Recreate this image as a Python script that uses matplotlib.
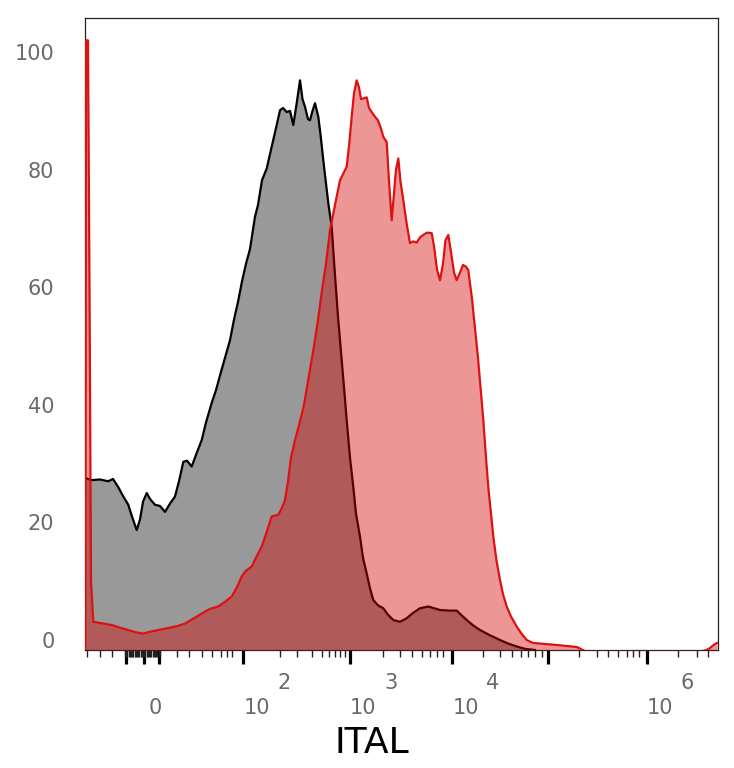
import matplotlib
matplotlib.use("Agg")
import matplotlib.pyplot as plt
import numpy as np

# x positions are display channels (0 = left edge of the plot), y = % of max
ctrl_x = [1, 6.7, 15, 23.3, 28, 33.3, 38, 43.3, 47, 51.7,
          55, 58, 61.7, 65, 70, 75, 80, 85, 90, 94,
          98.3, 102, 106.7, 111, 116.7, 121, 127, 131, 135, 140,
          145, 149, 153, 157, 161, 165, 170, 173, 177, 181.7,
          186.7, 191.7, 195, 198, 201.7, 205, 208.3, 211.7, 215, 217.5,
          220, 223, 225, 227.5, 230, 233.3, 235.5, 238.3, 243.3, 246.7,
          250, 253, 256, 259, 261.7, 265, 268.3, 271, 275, 278,
          281.7, 285, 288.3, 293, 298.3, 303, 308.3, 315, 321.7, 328,
          335, 343.3, 355, 365, 371.7, 376, 381.7, 388, 395, 405,
          415, 423, 431.7, 440, 450]
ctrl_y = [27.5, 27.2, 27.3, 27.0, 27.4, 26.0, 24.5, 23.0, 21.0, 18.7,
          20.5, 23.5, 25.0, 24.0, 23.0, 22.8, 21.8, 23.2, 24.4, 27.0,
          30.3, 30.5, 29.5, 31.5, 34.0, 37.0, 40.5, 42.5, 45.0, 48.0,
          51.0, 54.5, 57.5, 61.0, 64.0, 66.5, 72.0, 74.0, 78.2, 80.2,
          83.9, 87.6, 90.1, 90.5, 89.8, 90.0, 87.6, 91.3, 95.2, 92.0,
          90.7, 88.6, 88.4, 90.0, 91.3, 89.0, 86.0, 81.6, 74.3, 70.3,
          62.0, 55.0, 49.0, 43.0, 37.4, 31.0, 26.0, 21.5, 17.6, 14.0,
          11.3, 8.8, 6.8, 5.9, 5.4, 4.3, 3.4, 3.1, 3.7, 4.6,
          5.4, 5.7, 5.1, 5.0, 5.0, 4.3, 3.4, 2.5, 1.7, 0.8,
          0.0, -0.6, -1.1, -1.5, -1.7]

ital_x = [0.5, 1, 3, 4.5, 6, 8.3, 15, 26.7, 35, 43.3,
          51, 58.3, 65, 73.3, 85, 93, 100, 108, 116.7, 125,
          133.3, 140, 146.7, 152, 156.7, 161, 166.7, 171, 176.7, 181,
          186.7, 193.3, 197, 200, 203, 206, 210, 214, 219, 225,
          229, 233, 237, 241, 245, 250, 255, 261.7, 264, 266.7,
          269, 271.7, 274, 276, 278.3, 281.7, 284, 286.7, 290, 293,
          296, 298.3, 301.7, 304, 306.7, 309, 311, 313.3, 315.5, 318.3,
          321.5, 325, 328, 331.7, 335, 338.3, 342, 346.7, 349, 352,
          355, 358, 360.5, 363.3, 366, 369, 371.7, 375, 378, 381,
          383.3, 387, 390, 393, 395.5, 398.3, 401, 403.3, 406, 408.3,
          411.5, 415, 418, 421.7, 426, 431.7, 436, 441.7, 448, 455,
          475, 492, 500, 618, 624, 629, 632]
ital_y = [-1.7, 102, 102, 60, 10, 3.1, 2.9, 2.55, 2.1, 1.7,
          1.3, 1.1, 1.4, 1.7, 2.1, 2.4, 2.8, 3.6, 4.5, 5.3,
          5.7, 6.5, 7.4, 9.0, 10.8, 11.8, 12.5, 14.0, 15.9, 18.0,
          21.0, 21.3, 22.5, 23.8, 27.0, 31.0, 34.0, 36.5, 40.0, 46.0,
          50.0, 54.4, 59.5, 64.0, 69.7, 74.0, 78.2, 80.5, 84.0, 89.0,
          93.0, 95.2, 94.0, 92.0, 92.1, 92.3, 90.5, 89.8, 89.0, 88.4,
          87.0, 85.6, 84.7, 78.0, 71.4, 76.0, 80.0, 81.9, 78.0, 74.8,
          71.0, 67.5, 67.8, 67.6, 68.5, 68.9, 69.3, 69.2, 67.0, 63.0,
          61.2, 64.0, 68.0, 68.9, 66.0, 62.5, 61.2, 62.5, 63.8, 63.5,
          62.9, 58.0, 53.0, 48.0, 43.0, 37.4, 31.0, 26.0, 21.5, 17.6,
          13.5, 10.2, 7.8, 5.7, 4.0, 2.3, 1.2, 0.0, -0.5, -0.6,
          -0.9, -1.2, -1.9, -1.9, -1.5, -0.8, -0.5]

y_ticks = [0, 20, 40, 60, 80, 100]
major_ticks = [41, 58.5, 73.5, 158.3, 265, 367.3, 463.3, 561.7]
minor_ticks = [2.3, 15, 27.3] + list(np.arange(40, 75.1, 1.2)) + \
    [91.7, 104, 116.7, 127.3, 135.7, 141.7, 147.3,
     195, 211.7, 226.7, 237.3, 244.3, 250, 255, 260,
     298.3, 315, 326.7, 337.3, 345, 351.7, 358.3,
     397.7, 415, 426.7, 435.7, 443.3, 450, 456.7,
     494.3, 511.7, 523.3, 533.3, 541.7, 548.3, 554.3,
     593.3, 611.7, 623.3]
tick_label_pos = [70, 158.3, 265, 367.3, 562]
tick_label_base = ["0", "10", "10", "10", "10"]
tick_label_exp = ["", "2", "3", "4", "6"]

fig = plt.figure(figsize=(7.34, 7.68), dpi=100)
ax = fig.add_axes([85/734, 1-650/768, 633/734, 632/768])
ax.set_xlim(0, 633)
ax.set_ylim(-1.7, 105.8)

base = -1.7
ax.fill_between(ctrl_x, ctrl_y, base, color="#999999", lw=0, zorder=1)
ax.plot(ctrl_x, ctrl_y, color="black", lw=1.6, zorder=2)
ax.fill_between(ital_x, ital_y, base, color=(213/255, 0, 0), alpha=0.41, lw=0, zorder=3)
ax.plot(ital_x, ital_y, color="#dd1111", lw=1.6, zorder=4)

for s in ax.spines.values():
    s.set_color("#222222")
    s.set_linewidth(0.9)

ax.set_yticks(y_ticks)
ax.set_yticklabels([str(v) for v in y_ticks])
ax.tick_params(axis="y", length=0, pad=22, labelsize=15, labelcolor="#6a6a6a")

ax.set_xticks(major_ticks)
ax.set_xticklabels([])
ax.set_xticks(minor_ticks, minor=True)
ax.tick_params(axis="x", which="major", direction="out", length=10, width=2.3, color="black")
ax.tick_params(axis="x", which="minor", direction="out", length=5, width=1.0, color="#222222")

tr = ax.get_xaxis_transform()
for p, b, e in zip(tick_label_pos, tick_label_base, tick_label_exp):
    if e == "":
        ax.text(p, -0.092, b, transform=tr, ha="center", va="center",
                fontsize=15, color="#6a6a6a")
    else:
        ax.text(p, -0.092, b, transform=tr, ha="left", va="center",
                fontsize=15, color="#6a6a6a")
        ax.text(p + 34, -0.052, e, transform=tr, ha="left", va="center",
                fontsize=15, color="#6a6a6a")

ax.text(287, -0.147, "ITAL", transform=tr, ha="center", va="center",
        fontsize=26, color="black")

fig.savefig("out.png", dpi=100)
